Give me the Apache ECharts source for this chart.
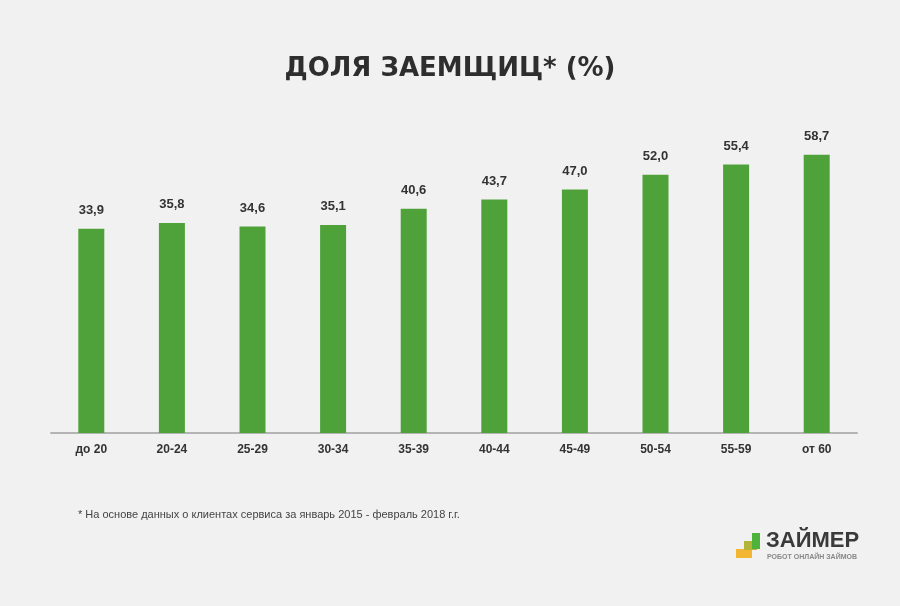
<!DOCTYPE html>
<html>
<head>
<meta charset="utf-8">
<script src="https://cdn.jsdelivr.net/npm/echarts@6/dist/echarts.min.js"></script>
<style>
  html, body { margin: 0; padding: 0; background: #f1f1f1; }
  #chart { width: 900px; height: 606px; }
</style>
</head>
<body>
<div id="chart"></div>
<script>
const ageGroups = ['до 20', '20-24', '25-29', '30-34', '35-39', '40-44', '45-49', '50-54', '55-59', 'от 60']
const shares = [33.9, 35.8, 34.6, 35.1, 40.6, 43.7, 47.0, 52.0, 55.4, 58.7]

const chart = echarts.init(document.getElementById('chart'))
const option = {
  backgroundColor: '#f1f1f1',
  textStyle: { fontFamily: 'Liberation Sans, Arial, sans-serif' },
  title: {
    text: 'ДОЛЯ ЗАЕМЩИЦ* (%)',
    left: 'center',
    top: 51,
    textStyle: { fontSize: 26, fontWeight: 'bold', color: '#2e2e2e', fontFamily: 'DejaVu Sans' }
  },
  grid: { left: 51, right: 43, top: 121, bottom: 173 },
  xAxis: {
    type: 'category',
    data: ageGroups,
    axisLine: { lineStyle: { color: '#b4b4b4', width: 2 } },
    axisTick: { show: false },
    axisLabel: { color: '#333', fontWeight: 'bold', fontSize: 12, margin: 11 }
  },
  yAxis: {
    type: 'value',
    min: 0,
    max: 70,
    // the original chart does not start its bars from zero
    breaks: [{ start: 0, end: 30, gap: 64.6 }],
    breakArea: { show: false },
    axisLine: { show: false },
    axisTick: { show: false },
    axisLabel: { show: false },
    splitLine: { show: false }
  },
  series: [
    {
      type: 'bar',
      data: shares,
      barWidth: 26,
      itemStyle: { color: '#4fa23a' },
      label: {
        show: true,
        position: 'top',
        distance: 12,
        color: '#333',
        fontWeight: 'bold',
        fontSize: 13,
        formatter: (p) => p.value.toFixed(1).replace('.', ',')
      }
    }
  ],
  graphic: [
    {
      type: 'text',
      left: 78,
      top: 509,
      style: {
        text: '* На основе данных о клиентах сервиса за январь 2015 - февраль 2018 г.г.',
        fontSize: 11,
        fill: '#444',
        fontFamily: 'Liberation Sans, Arial, sans-serif'
      }
    },
    { type: 'rect', shape: { x: 736, y: 549, width: 16, height: 9 }, style: { fill: '#f2b632' } },
    { type: 'rect', shape: { x: 744, y: 541, width: 13, height: 9 }, style: { fill: '#b3b43a' } },
    { type: 'rect', shape: { x: 752, y: 533, width: 8, height: 16 }, style: { fill: '#4fb33b' } },
    {
      type: 'text',
      left: 766,
      top: 530,
      style: {
        text: 'ЗАЙМЕР',
        fontSize: 22,
        fontWeight: 'bold',
        fill: '#3a3a3a',
        fontFamily: 'Liberation Sans, Arial, sans-serif'
      }
    },
    {
      type: 'text',
      left: 767,
      top: 554,
      style: {
        text: 'РОБОТ ОНЛАЙН ЗАЙМОВ',
        fontSize: 7,
        fontWeight: 'bold',
        fill: '#888',
        fontFamily: 'Liberation Sans, Arial, sans-serif'
      }
    }
  ]
}
chart.setOption(option)
</script>
</body>
</html>
